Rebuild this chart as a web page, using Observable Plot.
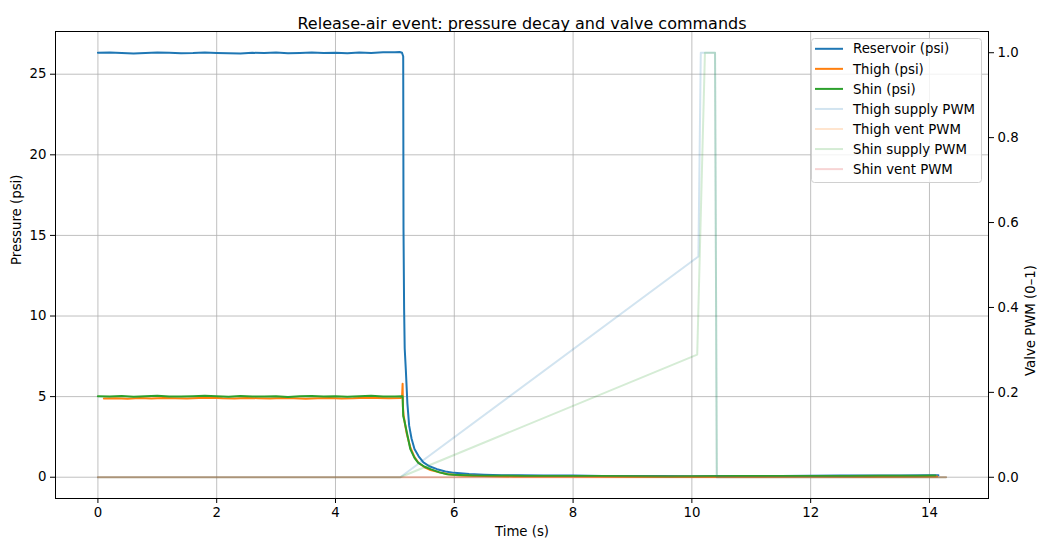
<!DOCTYPE html>
<html><head><meta charset="utf-8">
<script src="https://cdn.jsdelivr.net/npm/d3@7"></script>
<script src="https://cdn.jsdelivr.net/npm/@observablehq/plot@0.6"></script>
<style>body{margin:0;background:#fff;} #chart{position:relative;width:1037px;height:543px;}</style>
</head><body><div id="chart"></div>
<script>
// ---- data ----
const title = "Release-air event: pressure decay and valve commands";
const xTicks = [0, 2, 4, 6, 8, 10, 12, 14];
const yTicks = [0, 5, 10, 15, 20, 25];
const pwmTicks = [0, 0.2, 0.4, 0.6, 0.8, 1.0];

const reservoirT = [0,0.2,0.4,0.6,0.8,1.0,1.2,1.4,1.6,1.8,2.0,2.2,2.4,2.6,2.8,3.0,3.2,3.4,3.6,3.8,4.0,4.2,4.4,4.6,4.8,5.0,
  5.08,5.12,5.14,5.145,5.155,5.165,5.185,5.21,5.24,5.28,5.33,5.4,5.48,5.58,5.71,5.85,6.0,6.25,6.5,6.8,7.1,7.5,8.0,8.5,9.0,9.5,10.0,10.5,11.0,11.5,12.0,12.5,13.0,13.5,14.0,14.15];
const reservoirP = [26.33,26.35,26.31,26.28,26.32,26.34,26.33,26.30,26.31,26.35,26.32,26.30,26.29,26.33,26.31,26.34,26.30,26.32,26.35,26.31,26.33,26.30,26.34,26.32,26.36,26.37,
  26.38,26.33,26.1,15.4,10.5,8.0,6.6,4.6,3.2,2.4,1.75,1.3,0.92,0.68,0.5,0.36,0.27,0.2,0.16,0.13,0.12,0.1,0.1,0.08,0.08,0.07,0.06,0.07,0.08,0.08,0.09,0.1,0.1,0.11,0.12,0.13];

const thighT = [0.1,0.3,0.5,0.7,0.9,1.1,1.3,1.5,1.7,1.9,2.1,2.3,2.5,2.7,2.9,3.1,3.3,3.5,3.7,3.9,4.1,4.3,4.5,4.7,4.9,5.1,
  5.12,5.13,5.135,5.145,5.17,5.2,5.26,5.33,5.4,5.5,5.6,5.75,5.9,6.1,6.5,7.0,8.0,9.0,10.0,11.0,12.0,13.0,14.13];
const thighP = [4.88,4.9,4.87,4.91,4.89,4.92,4.9,4.88,4.91,4.93,4.9,4.89,4.92,4.9,4.88,4.91,4.9,4.87,4.9,4.92,4.89,4.9,4.93,4.91,4.9,4.92,
  4.95,5.8,4.4,3.9,3.3,2.7,1.85,1.25,0.88,0.62,0.45,0.3,0.18,0.11,0.07,0.05,0.04,0.03,0.03,0.03,0.04,0.03,0.04];

const shinT = [0,0.2,0.4,0.6,0.8,1.0,1.2,1.4,1.6,1.8,2.0,2.2,2.4,2.6,2.8,3.0,3.2,3.4,3.6,3.8,4.0,4.2,4.4,4.6,4.8,5.0,
  5.13,5.14,5.16,5.19,5.26,5.33,5.39,5.5,5.6,5.75,5.88,6.0,6.3,6.7,7.2,7.8,8.4,9.0,9.6,10.2,10.8,11.4,12.0,12.6,13.2,13.8,14.1];
const shinP = [5.03,5.0,5.04,4.99,5.02,5.06,5.01,5.0,5.03,5.05,5.02,4.99,5.04,5.01,5.0,5.03,4.98,5.02,5.04,5.0,5.03,4.99,5.02,5.05,5.01,5.0,
  5.02,3.8,3.5,2.98,1.74,1.2,0.91,0.65,0.5,0.3,0.19,0.15,0.11,0.09,0.08,0.07,0.07,0.06,0.05,0.06,0.07,0.07,0.08,0.08,0.09,0.09,0.1];

const thighSupplyT = [0, 5.09, 10.11, 10.15, 10.39, 10.42, 14.28];
const thighSupplyPWM = [0, 0, 0.52, 1, 1, 0, 0];
const thighVentT = [0, 14.28];
const thighVentPWM = [0, 0];
const shinSupplyT = [0, 5.09, 10.09, 10.22, 10.39, 10.42, 14.28];
const shinSupplyPWM = [0, 0, 0.289, 1, 1, 0, 0];
const shinVentT = [0, 14.28];
const shinVentPWM = [0, 0];

// ---- scales: right axis (PWM) mapped onto left (pressure) ----
const Y0 = -1.32, Y1 = 27.65, R0 = -0.05, R1 = 1.05;
const toLeft = v => Y0 + (v - R0) / (R1 - R0) * (Y1 - Y0);
const toRight = p => R0 + (p - Y0) / (Y1 - Y0) * (R1 - R0);

const pts = (T, V, f = v => v) => T.map((t, i) => ({t, v: f(V[i])}));

const C = {blue:"#1f77b4", orange:"#ff7f0e", green:"#2ca02c", red:"#d62728"};
const series = [
  {name:"Reservoir (psi)", color:C.blue, op:1, data: pts(reservoirT, reservoirP)},
  {name:"Thigh (psi)", color:C.orange, op:1, data: pts(thighT, thighP)},
  {name:"Shin (psi)", color:C.green, op:1, data: pts(shinT, shinP)},
  {name:"Thigh supply PWM", color:C.blue, op:0.2, data: pts(thighSupplyT, thighSupplyPWM, toLeft)},
  {name:"Thigh vent PWM", color:C.orange, op:0.2, data: pts(thighVentT, thighVentPWM, toLeft)},
  {name:"Shin supply PWM", color:C.green, op:0.2, data: pts(shinSupplyT, shinSupplyPWM, toLeft)},
  {name:"Shin vent PWM", color:C.red, op:0.2, data: pts(shinVentT, shinVentPWM, toLeft)}
];

const font = "'DejaVu Sans', sans-serif";
const chart = Plot.plot({
  width:1037, height:543, marginLeft:55, marginRight:49, marginTop:31, marginBottom:45,
  style:{fontFamily:font, fontSize:"13.3px", background:"#fff", color:"#000"},
  x:{domain:[-0.714, 14.994]},
  y:{domain:[Y0, Y1]},
  marks:[
    Plot.gridX(xTicks, {stroke:"#b0b0b0", strokeOpacity:1, strokeWidth:0.8}),
    Plot.gridY(yTicks, {stroke:"#b0b0b0", strokeOpacity:1, strokeWidth:0.8}),
    ...series.map(s => Plot.line(s.data, {x:"t", y:"v", stroke:s.color, strokeOpacity:s.op, strokeWidth:2, strokeLinejoin:"round"})),
    Plot.frame({stroke:"#000", strokeWidth:1}),
    Plot.axisX(xTicks, {tickSize:5, tickPadding:4, label:null, tickFormat:d => String(d)}),
    Plot.axisY(yTicks, {anchor:"left", tickSize:5, tickPadding:4, label:null, tickFormat:d => String(d)}),
    Plot.axisY(pwmTicks.map(toLeft), {anchor:"right", tickSize:5, tickPadding:4, label:null, tickFormat:d => toRight(d).toFixed(1)}),
    Plot.text([title], {text:d => d, frameAnchor:"top", dy:-14, fontSize:16}),
    Plot.text(["Time (s)"], {text:d => d, frameAnchor:"bottom", dy:37}),
    Plot.text(["Pressure (psi)"], {text:d => d, frameAnchor:"left", dx:-39, rotate:-90}),
    Plot.text(["Valve PWM (0–1)"], {text:d => d, frameAnchor:"right", dx:42, rotate:-90})
  ]
});
document.getElementById("chart").appendChild(chart);

// ---- legend ----
const svg = d3.select(chart);
const lg = svg.append("g").attr("font-family", font).attr("font-size", "13.3px").attr("text-anchor", "start");
lg.append("rect").attr("x", 811.5).attr("y", 38.5).attr("width", 170).attr("height", 144)
  .attr("rx", 3).attr("fill", "#fff").attr("fill-opacity", 0.8).attr("stroke", "#d0d0d0");
series.forEach((s, i) => {
  const y = 48.8 + i * 20.05;
  lg.append("line").attr("x1", 815).attr("x2", 843).attr("y1", y).attr("y2", y)
    .attr("stroke", s.color).attr("stroke-opacity", s.op).attr("stroke-width", 2);
  lg.append("text").attr("x", 853).attr("y", y).attr("dy", "0.35em").attr("fill", "#000")
    .attr("text-anchor", "start").text(s.name);
});
</script>
</body></html>
